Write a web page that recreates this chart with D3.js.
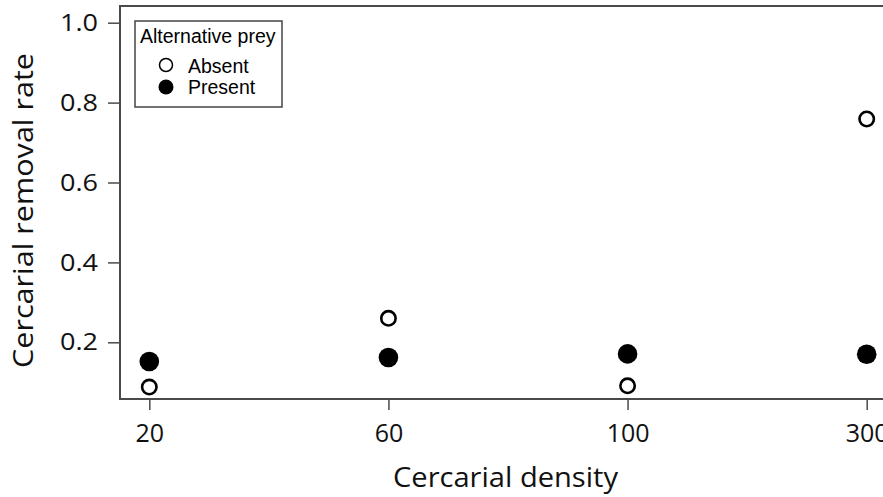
<!DOCTYPE html>
<html>
<head>
<meta charset="utf-8">
<script src="https://cdn.jsdelivr.net/npm/d3@7"></script>
<style>
  body { margin: 0; background: #fff; }
  svg { display: block; }
</style>
</head>
<body>
<script>
// cercarial density categories and removal rates
const densities = ["20", "60", "100", "300"];
const absentRate = [0.088, 0.26, 0.091, 0.759];
const presentRate = [0.152, 0.162, 0.171, 0.170];
const yTicks = [0.2, 0.4, 0.6, 0.8, 1.0];

const width = 883, height = 497;
const box = { left: 120, top: 6, right: 895, bottom: 399 };

const svg = d3.select("body").append("svg")
  .attr("width", width)
  .attr("height", height);

const x = d3.scalePoint()
  .domain(densities)
  .range([149.3, 866.7]);

const y = d3.scaleLinear()
  .domain([0.2, 1.0])
  .range([342.3, 22.7]);

const axisColor = "#4a4a4a";
const font = "'Open Sans', sans-serif";

// frame
svg.append("rect")
  .attr("x", box.left)
  .attr("y", box.top)
  .attr("width", box.right - box.left)
  .attr("height", box.bottom - box.top)
  .attr("fill", "none")
  .attr("stroke", axisColor)
  .attr("stroke-width", 2);

// y axis
const yAxis = svg.append("g")
  .attr("transform", `translate(${box.left},0)`)
  .call(d3.axisLeft(y).tickValues(yTicks).tickFormat(d3.format(".1f")).tickSize(12).tickPadding(10));
yAxis.select(".domain").remove();
yAxis.selectAll(".tick line").attr("stroke", axisColor).attr("stroke-width", 1.5);
yAxis.selectAll(".tick text")
  .attr("font-family", font)
  .attr("font-size", 24)
  .attr("textLength", 38)
  .attr("lengthAdjust", "spacingAndGlyphs")
  .attr("fill", "#111");

// x axis
const xAxis = svg.append("g")
  .attr("transform", `translate(0,${box.bottom})`)
  .call(d3.axisBottom(x).tickSize(11).tickPadding(14));
xAxis.select(".domain").remove();
xAxis.selectAll(".tick line").attr("stroke", axisColor).attr("stroke-width", 1.5);
xAxis.selectAll(".tick text")
  .attr("font-family", font)
  .attr("font-size", 25)
  .attr("fill", "#111");

// axis titles
svg.append("text")
  .attr("x", 505.5)
  .attr("y", 487)
  .attr("text-anchor", "middle")
  .attr("font-family", font)
  .attr("font-size", 26.5)
  .attr("textLength", 225)
  .attr("lengthAdjust", "spacingAndGlyphs")
  .attr("fill", "#111")
  .text("Cercarial density");

svg.append("text")
  .attr("transform", "translate(33,210.5) rotate(-90)")
  .attr("text-anchor", "middle")
  .attr("font-family", font)
  .attr("font-size", 26.5)
  .attr("textLength", 315)
  .attr("lengthAdjust", "spacingAndGlyphs")
  .attr("fill", "#111")
  .text("Cercarial removal rate");

// points
svg.append("g").selectAll("circle")
  .data(densities)
  .enter()
  .append("circle")
    .attr("cx", d => x(d))
    .attr("cy", (d, i) => y(absentRate[i]))
    .attr("r", 7.2)
    .attr("fill", "#fff")
    .attr("stroke", "#000")
    .attr("stroke-width", 2.6);

svg.append("g").selectAll("circle")
  .data(densities)
  .enter()
  .append("circle")
    .attr("cx", d => x(d))
    .attr("cy", (d, i) => y(presentRate[i]))
    .attr("r", 9.8)
    .attr("fill", "#000");

// legend
const legend = svg.append("g");
legend.append("rect")
  .attr("x", 135)
  .attr("y", 21)
  .attr("width", 147)
  .attr("height", 86)
  .attr("fill", "#fff")
  .attr("stroke", "#444")
  .attr("stroke-width", 1.5);

const legendFont = "'Liberation Sans', Arial, sans-serif";
legend.append("text")
  .attr("x", 140)
  .attr("y", 43)
  .attr("font-family", legendFont)
  .attr("font-size", 19.5)
  .attr("fill", "#000")
  .text("Alternative prey");

legend.append("circle")
  .attr("cx", 166).attr("cy", 65).attr("r", 6.5)
  .attr("fill", "#fff").attr("stroke", "#000").attr("stroke-width", 1.5);
legend.append("circle")
  .attr("cx", 166).attr("cy", 87).attr("r", 7.5)
  .attr("fill", "#000");

legend.append("text")
  .attr("x", 188).attr("y", 73)
  .attr("font-family", legendFont)
  .attr("font-size", 19.5)
  .attr("fill", "#000")
  .text("Absent");
legend.append("text")
  .attr("x", 188).attr("y", 94)
  .attr("font-family", legendFont)
  .attr("font-size", 19.5)
  .attr("fill", "#000")
  .text("Present");
</script>
</body>
</html>
